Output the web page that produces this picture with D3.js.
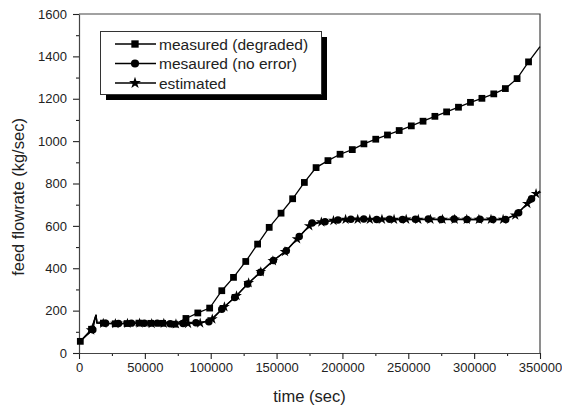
<!DOCTYPE html>
<html>
<head>
<meta charset="utf-8">
<script src="https://cdn.jsdelivr.net/npm/d3@7"></script>
<style>
    body { margin: 0; background: #fff; }
    svg { display: block; font-family: Arial, "Liberation Sans", sans-serif; }
</style>
</head>
<body>
<svg width="562" height="410"></svg>
<script>
const xTicks = [0, 50000, 100000, 150000, 200000, 250000, 300000, 350000];
const yTicks = [0, 200, 400, 600, 800, 1000, 1200, 1400, 1600];
const xMinor = [25000, 75000, 125000, 175000, 225000, 275000, 325000];
const yMinor = [100, 300, 500, 700, 900, 1100, 1300, 1500];
const seriesNames = ['measured (degraded)', 'mesaured (no error)', 'estimated'];

// start-up transient shared by all three curves (no markers on it)
const leadT = [0, 12900, 13600];
const leadV = [50, 180, 142];

const degradedT = [1000, 9500, 18500, 27500, 36500, 45500, 54500, 63500, 72500, 81200, 90200, 99200,
    108400, 117300, 126600, 135600, 144400, 153400, 162200, 171100, 180000, 189000, 198200, 207500,
    216300, 225300, 234200, 243100, 252300, 261200, 270200, 279100, 288100, 297200, 305900, 314900,
    323700, 332600, 341300];
const degradedV = [55, 112, 141, 138, 139, 141, 140, 140, 136, 163, 189, 212,
    294, 357, 432, 514, 593, 660, 728, 805, 875, 908, 938, 960,
    987, 1009, 1029, 1050, 1072, 1094, 1117, 1138, 1160, 1183, 1202, 1223,
    1248, 1295, 1374];
const degradedEndT = [350000];
const degradedEndV = [1446];

const noErrorT = [10500, 20200, 30000, 39800, 49600, 59400, 69200, 79000, 88800, 98600,
    108400, 118200, 128000, 137800, 147600, 157400, 167200, 177000, 186800, 196600, 206400,
    216200, 226000, 235800, 245600, 255400, 265200, 275000, 284800, 294600, 304400, 314200,
    324000, 333800, 343600];
const noErrorV = [110, 140, 139, 141, 140, 141, 138, 139, 143, 148,
    207, 262, 326, 381, 437, 483, 550, 614, 620, 628, 631,
    632, 630, 631, 630, 631, 632, 630, 632, 630, 631, 630,
    630, 662, 728];
const noErrorEndT = [350000];
const noErrorEndV = [765];

const estimatedT = [9200, 18400, 27600, 36800, 46000, 55200, 64400, 73600, 82800, 92000, 101200,
    110400, 119600, 128800, 138000, 147200, 156400, 165600, 174800, 184000, 193200, 202400,
    211600, 220800, 230000, 239200, 248400, 257600, 266800, 276000, 285200, 294400, 303600,
    312800, 322000, 331200, 340400, 347000];
const estimatedV = [108, 140, 139, 140, 141, 139, 140, 137, 139, 141, 160,
    218, 270, 331, 383, 435, 478, 538, 600, 618, 625, 630,
    631, 630, 631, 630, 631, 630, 631, 630, 631, 630, 630,
    631, 630, 650, 705, 752];
const estimatedEndT = [350000];
const estimatedEndV = [765];

const W = 562, H = 410;
const margin = { top: 14, right: 22, bottom: 57, left: 79 };
const width = W - margin.left - margin.right;
const height = H - margin.top - margin.bottom;
const ink = '#222';

const svg = d3.select('svg');
const g = svg.append('g').attr('transform', 'translate(' + margin.left + ',' + margin.top + ')');

const x = d3.scaleLinear().domain([0, 350000]).range([0, width]);
const y = d3.scaleLinear().domain([0, 1600]).range([height, 0]);

// frame (top and right sides, no ticks)
g.append('path')
    .attr('d', 'M0,0H' + width + 'V' + height)
    .attr('fill', 'none').attr('stroke', '#444').attr('stroke-width', 1.2);

// minor ticks
g.append('g').attr('transform', 'translate(0,' + height + ')')
    .call(d3.axisBottom(x).tickValues(xMinor).tickSize(3).tickFormat(''))
    .call(a => a.select('.domain').remove());
g.append('g')
    .call(d3.axisLeft(y).tickValues(yMinor).tickSize(3).tickFormat(''))
    .call(a => a.select('.domain').remove());

// major axes
g.append('g').attr('transform', 'translate(0,' + height + ')')
    .call(d3.axisBottom(x).tickValues(xTicks).tickSize(6).tickSizeOuter(0).tickPadding(4).tickFormat(d3.format('d')));
g.append('g')
    .call(d3.axisLeft(y).tickValues(yTicks).tickSize(6).tickSizeOuter(0).tickPadding(6).tickFormat(d3.format('d')));
g.selectAll('.tick line').attr('stroke', ink).attr('stroke-width', 1.1);
g.selectAll('.domain').attr('stroke', '#444').attr('stroke-width', 1.2);
g.selectAll('.tick text').attr('font-size', 13).attr('fill', ink)
    .attr('font-family', 'Arial, "Liberation Sans", sans-serif');

svg.append('text')
    .attr('x', margin.left + width / 2).attr('y', 402)
    .attr('text-anchor', 'middle').attr('font-size', 16.5).attr('fill', ink)
    .text('time (sec)');
svg.append('text')
    .attr('transform', 'translate(24,197) rotate(-90)')
    .attr('text-anchor', 'middle').attr('font-size', 16.5).attr('fill', ink)
    .text('feed flowrate (kg/sec)');

function merge(ts, vs, extraT, extraV) {
    const pts = [];
    leadT.forEach((t, i) => pts.push({ t: t, v: leadV[i] }));
    ts.forEach((t, i) => pts.push({ t: t, v: vs[i] }));
    extraT.forEach((t, i) => pts.push({ t: t, v: extraV[i] }));
    return pts.sort((a, b) => a.t - b.t);
}

const line = d3.line().x(d => x(d.t)).y(d => y(d.v));

const series = [
    { name: seriesNames[0], t: degradedT, v: degradedV, et: degradedEndT, ev: degradedEndV, sym: d3.symbolSquare, size: 46 },
    { name: seriesNames[1], t: noErrorT, v: noErrorV, et: noErrorEndT, ev: noErrorEndV, sym: d3.symbolCircle, size: 44 },
    { name: seriesNames[2], t: estimatedT, v: estimatedV, et: estimatedEndT, ev: estimatedEndV, sym: d3.symbolStar, size: 36 }
];

series.forEach(s => {
    g.append('path')
        .attr('d', line(merge(s.t, s.v, s.et, s.ev)))
        .attr('fill', 'none').attr('stroke', '#000').attr('stroke-width', 1.3);
    g.selectAll(null)
        .data(s.t.map((t, i) => ({ t: t, v: s.v[i] })))
        .enter().append('path')
        .attr('d', d3.symbol().type(s.sym).size(s.size))
        .attr('transform', d => 'translate(' + x(d.t) + ',' + y(d.v) + ')')
        .attr('fill', '#000');
});

// legend
const lg = svg.append('g');
lg.append('rect').attr('x', 106).attr('y', 37).attr('width', 221).attr('height', 63).attr('fill', '#000');
lg.append('rect').attr('x', 100.5).attr('y', 31.5).attr('width', 221).attr('height', 63)
    .attr('fill', '#fff').attr('stroke', '#333').attr('stroke-width', 1);
series.forEach((s, i) => {
    const ly = 44 + i * 19.5;
    lg.append('line').attr('x1', 115).attr('x2', 156).attr('y1', ly).attr('y2', ly)
        .attr('stroke', '#000').attr('stroke-width', 1.3);
    lg.append('path')
        .attr('d', d3.symbol().type(s.sym).size(s.size + 8))
        .attr('transform', 'translate(135,' + ly + ')').attr('fill', '#000');
    lg.append('text').attr('x', 159).attr('y', ly + 5.5)
        .attr('font-size', 15.5).attr('fill', ink).text(s.name);
});
</script>
</body>
</html>
